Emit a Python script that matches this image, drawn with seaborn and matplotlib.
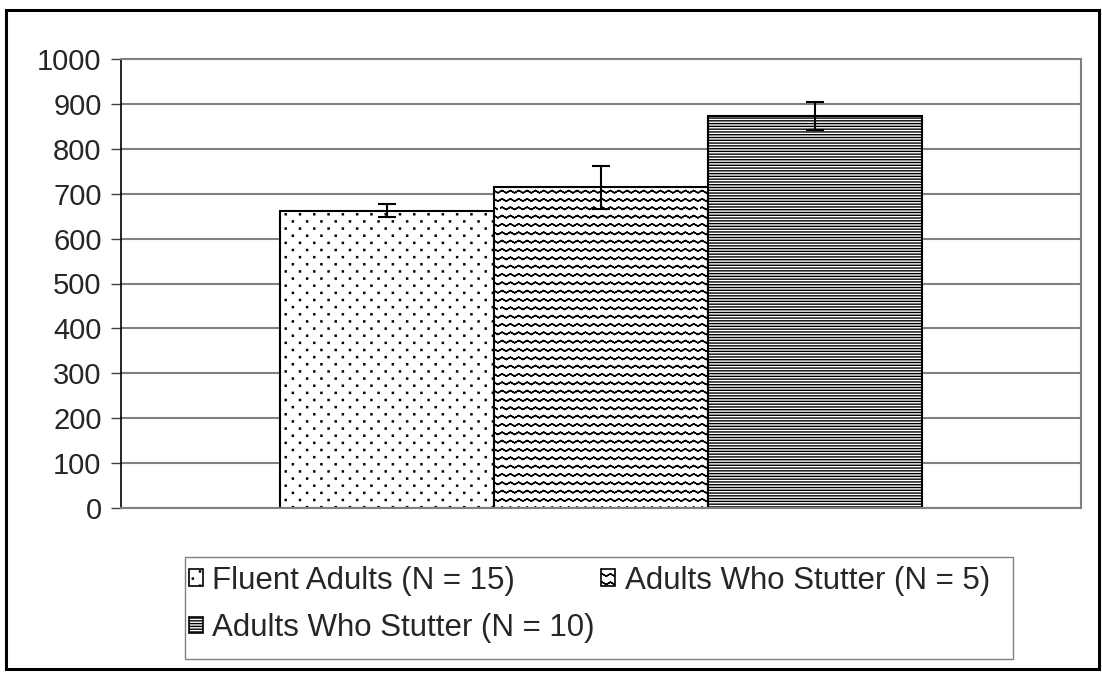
import warnings
import numpy as np
import pandas as pd
import seaborn as sns
import matplotlib
matplotlib.use('Agg')
from matplotlib import pyplot as plt
from matplotlib import hatch as mhatch
from matplotlib.path import Path
from matplotlib.patches import Rectangle, Patch

warnings.filterwarnings('ignore')

groups = ['Fluent Adults (N = 15)', 'Adults Who Stutter (N = 5)', 'Adults Who Stutter (N = 10)']
means = [662, 714, 873]
errors = [15, 48, 31]
yticks = list(range(0, 1001, 100))
hatches = [':', '~', '------']


# extra hatch patterns: sparse staggered dots (':') and zigzag waves ('~')
class DotHatch(mhatch.HatchPatternBase):
    def __init__(self, hatch, density):
        self.pts = []
        if hatch.count(':'):
            ncol, nrow = 7, 14
            for j in range(nrow + 1):
                for i in range(ncol + 1):
                    x = (i + 0.5 * (j % 2)) / ncol
                    if x <= 1.0:
                        self.pts.append((x, j / nrow))
        self.num_vertices = len(self.pts) * 5

    def set_vertices_and_codes(self, vertices, codes):
        r = 0.0055
        sq = np.array([[-r, -r], [r, -r], [r, r], [-r, r], [-r, -r]])
        for k, (x, y) in enumerate(self.pts):
            vertices[k * 5:(k + 1) * 5] = sq + [x, y]
            codes[k * 5] = Path.MOVETO
            codes[k * 5 + 1:k * 5 + 4] = Path.LINETO
            codes[k * 5 + 4] = Path.CLOSEPOLY


class WaveHatch(mhatch.HatchPatternBase):
    def __init__(self, hatch, density):
        self.nlines = 12 * hatch.count('~')
        self.npts = 12 * 4 + 1
        self.num_vertices = (self.nlines + 1) * self.npts * 2 if self.nlines else 0

    def set_vertices_and_codes(self, vertices, codes):
        # zigzag: 4 samples per cycle -> triangular wave
        x = np.linspace(0, 1, self.npts)
        wave = 0.012 * np.sin(2 * np.pi * 12 * x)
        n = self.npts * 2
        for i, off in enumerate(np.linspace(0, 1, self.nlines + 1)):
            seg = np.column_stack([x, off + wave])
            vertices[i * n:(i + 1) * n] = np.vstack([seg, seg[::-1]])
            codes[i * n] = Path.MOVETO
            codes[i * n + 1:(i + 1) * n] = Path.LINETO


mhatch._hatch_types.extend([DotHatch, WaveHatch])

sns.set_style('white')
plt.rcParams['font.family'] = ['Liberation Sans', 'DejaVu Sans']
plt.rcParams['hatch.linewidth'] = 1.0
plt.rcParams['hatch.color'] = 'black'

df = pd.DataFrame({'group': groups, 'mean': means, 'err': errors})

fig = plt.figure(figsize=(11.02, 6.77), dpi=100)
ax = fig.add_axes([121 / 1102, 1 - 508 / 677, 960 / 1102, 449 / 677])

sns.barplot(data=df, x='group', y='mean', hue='group', palette=['white'] * 3,
            edgecolor='black', linewidth=1.5, width=1, legend=False, ax=ax)
for p, h in zip(ax.patches, hatches):
    p.set_hatch(h)

centers = [p.get_x() + p.get_width() / 2 for p in ax.patches]
ax.errorbar(centers, df['mean'], yerr=df['err'], fmt='none', ecolor='black',
            elinewidth=1.5, capsize=6.5, capthick=1.5, zorder=5)

ax.set_xlim(-1.245, 3.245)
ax.set_ylim(0, 1000)
ax.set_yticks(yticks)
ax.set_xticks([])
ax.set_xlabel('')
ax.set_ylabel('')
ax.tick_params(axis='y', left=True, length=7, width=1, color='#404040',
               pad=7, labelsize=21)
ax.yaxis.grid(True, color='#808080', lw=1.5)
ax.set_axisbelow(True)
for s in ['top', 'right', 'bottom']:
    ax.spines[s].set_color('#808080')
    ax.spines[s].set_linewidth(1.5)
ax.spines['left'].set_color('black')
ax.spines['left'].set_linewidth(1.2)

# legend: entries without frame, box drawn separately (Excel-like padding)
handles = [Patch(facecolor='white', edgecolor='black', linewidth=1.2, hatch=h)
           for h in hatches]
order = [0, 2, 1]
fig.legend([handles[i] for i in order], [groups[i] for i in order],
           loc='upper left', bbox_to_anchor=(189 / 1102, 1 - 566 / 677, 801 / 1102, 0),
           mode='expand', ncol=2, fontsize=22.5, handlelength=0.45, handleheight=0.45,
           handletextpad=0.3, labelspacing=0.55, borderpad=0, borderaxespad=0,
           frameon=False)
fig.add_artist(Rectangle((185 / 1102, 1 - 659 / 677), 828 / 1102, 102 / 677,
                         transform=fig.transFigure, fill=False,
                         edgecolor='#808080', lw=1.0))

fig.add_artist(Rectangle((6 / 1102, 1 - 669 / 677), 1093 / 1102, 659 / 677,
                         transform=fig.transFigure, fill=False,
                         edgecolor='black', lw=2.2))

fig.savefig('out.png', dpi=100)
